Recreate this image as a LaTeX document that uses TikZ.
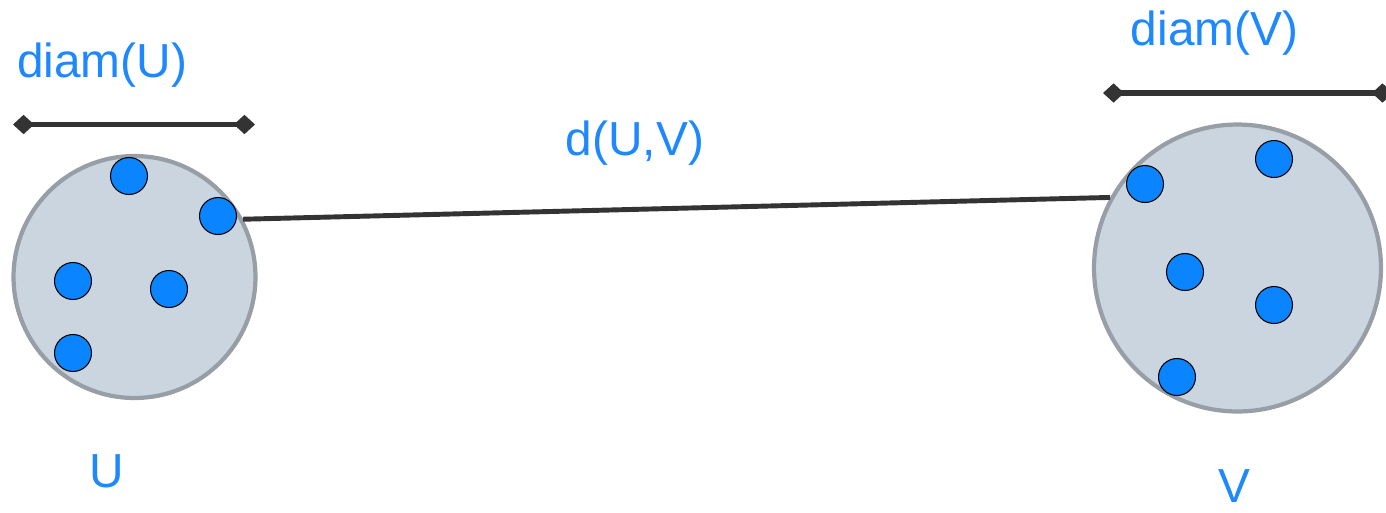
\documentclass[tikz,border=0pt]{standalone}
\usepackage{fontspec}
\setmainfont{Liberation Sans}
\usepackage{tikz}
\usetikzlibrary{arrows.meta,positioning}
\definecolor{labelBlue}{RGB}{30,136,255}
\definecolor{dotBlue}{RGB}{10,132,255}
\definecolor{diskFill}{RGB}{203,213,223}
\definecolor{diskRim}{RGB}{151,158,165}
\definecolor{barDark}{RGB}{51,51,51}
\tikzset{
  setDisk/.style={circle,draw=diskRim,fill=diskFill,line width=2.4pt,
                  inner sep=0pt,minimum size=#1},
  pointDot/.style={circle,draw=black,fill=dotBlue,line width=0.6pt,
                   inner sep=0pt,minimum size=0.74cm},
  diamBar/.style={{Diamond[length=12pt,width=11pt]}-{Diamond[length=12pt,width=11pt]},
                  line width=3pt,draw=barDark},
  distLine/.style={line width=2.8pt,draw=barDark},
  lbl/.style={text=labelBlue,inner sep=0pt,anchor=base,
              font=\fontsize{27.2}{32}\selectfont},
}
\begin{document}
\begin{tikzpicture}[x=0.02cm,y=-0.02cm]
  \useasboundingbox (0,0) rectangle (1386,512);
  % the two sets
  \node[setDisk=4.84cm] (U) at (134.5,277) {};
  \node[setDisk=5.74cm] (V) at (1237.5,268) {};
  % distance between the sets
  \draw[distLine] (U.28) -- (V.151);
  \node[lbl] (dUV) at (635,155) {d(U,V)};
  % points
  \foreach \n/\x/\y in {u1/129/176,u2/218/216,u3/73/281,u4/169/289,u5/73/353,
                        v1/1145/184,v2/1274/159,v3/1185/272,v4/1274/305,v5/1177/377}
    {\node[pointDot] (\n) at (\x,\y) {};}
  % diameters
  \coordinate (uL) at (13,124.5);
  \coordinate (uR) at (255,124.5);
  \coordinate (vL) at (1103,93);
  \coordinate (vR) at (1393,93);
  \draw[diamBar] (uL) -- (uR);
  \draw[diamBar] (vL) -- (vR);
  \node[lbl] (dU) at (102,77) {diam(U)};
  \node[lbl] (dV) at (1214.5,45) {diam(V)};
  % set names
  \node[lbl] (nU) at (106.5,487) {U};
  \node[lbl] (nV) at (1234,502) {V};
\end{tikzpicture}
\end{document}
